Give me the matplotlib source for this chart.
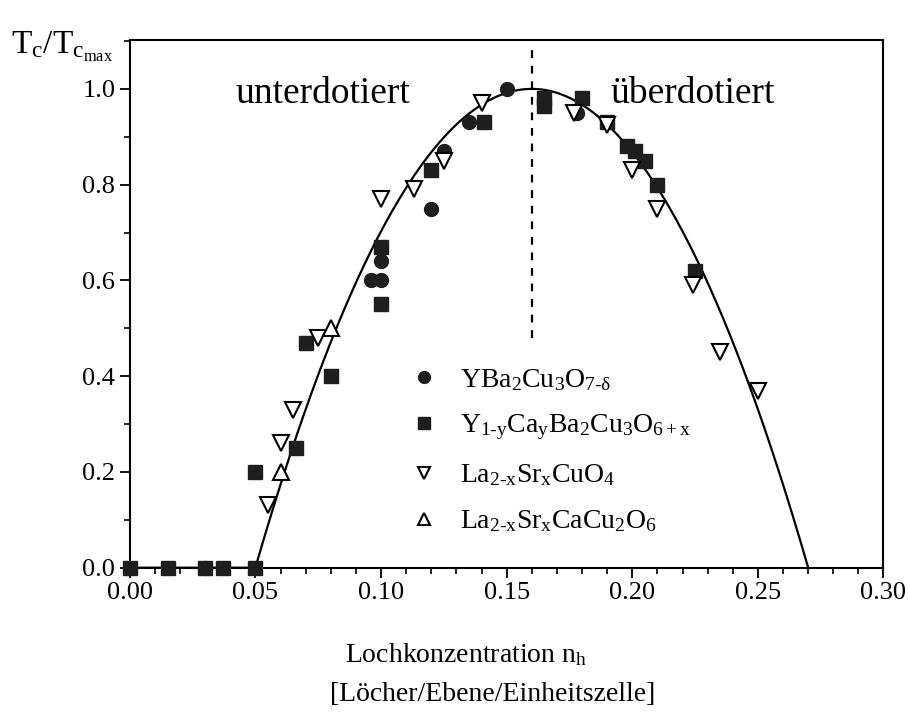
import numpy as np
import matplotlib
matplotlib.use("Agg")
import matplotlib.pyplot as plt
from matplotlib.ticker import MultipleLocator

plt.rcParams['font.family'] = ['Liberation Serif', 'DejaVu Serif']
plt.rcParams['mathtext.fontset'] = 'custom'
plt.rcParams['mathtext.rm'] = 'Liberation Serif'
plt.rcParams['mathtext.it'] = 'Liberation Serif'
plt.rcParams['font.size'] = 19

# YBa2Cu3O7-d
ybco_x = [0.096, 0.100, 0.100, 0.120, 0.125, 0.135, 0.150, 0.178, 0.030]
ybco_y = [0.60, 0.60, 0.64, 0.75, 0.87, 0.93, 1.00, 0.95, 0.0]

# Y1-yCayBa2Cu3O6+x
ca_x = [0.000, 0.015, 0.030, 0.037, 0.050, 0.050, 0.066, 0.070, 0.080,
        0.100, 0.100, 0.120, 0.141, 0.165, 0.165, 0.180, 0.190, 0.198,
        0.201, 0.205, 0.210, 0.225]
ca_y = [0.0, 0.0, 0.0, 0.0, 0.0, 0.20, 0.25, 0.47, 0.40,
        0.55, 0.67, 0.83, 0.93, 0.965, 0.98, 0.98, 0.93, 0.88,
        0.87, 0.85, 0.80, 0.62]

# La2-xSrxCuO4
lsco_x = [0.055, 0.060, 0.065, 0.075, 0.100, 0.113, 0.125, 0.140, 0.177,
          0.190, 0.200, 0.210, 0.224, 0.235, 0.250]
lsco_y = [0.13, 0.26, 0.33, 0.48, 0.77, 0.79, 0.85, 0.97, 0.95,
          0.925, 0.83, 0.75, 0.59, 0.45, 0.37]

# La2-xSrxCaCu2O6
lscc_x = [0.060, 0.080]
lscc_y = [0.20, 0.50]

# parabolic Tc(p) relation, zero below p = 0.05
p = np.linspace(0, 0.27, 400)
tc = np.clip(1 - 82.6 * (p - 0.16) ** 2, 0, None)
tc[p < 0.05] = 0

fig = plt.figure(figsize=(9.08, 7.15), dpi=100)
ax = fig.add_axes([0.143, 0.206, 0.830, 0.738])

ax.plot(p, tc, color='black', lw=1.6, zorder=2)
ax.plot([0.16, 0.16], [0.48, 1.09], color='black', lw=1.6,
        linestyle=(0, (3.5, 3.5)), zorder=1)

ax.plot(ybco_x, ybco_y, 'o', color='#1e1e1e', ms=10, ls='none',
        label=r'YBa$_2$Cu$_3$O$_{7\text{-}\delta}$', zorder=3, clip_on=False)
ax.plot(ca_x, ca_y, 's', color='#1e1e1e', ms=10, ls='none',
        label=r'Y$_{1\text{-}y}$Ca$_y$Ba$_2$Cu$_3$O$_{6+x}$', zorder=3,
        clip_on=False)
ax.plot(lsco_x, lsco_y, 'v', mfc='white', mec='black', mew=1.5, ms=11,
        ls='none', label=r'La$_{2\text{-}x}$Sr$_x$CuO$_4$', zorder=4)
ax.plot(lscc_x, lscc_y, '^', mfc='white', mec='black', mew=1.5, ms=11,
        ls='none', label=r'La$_{2\text{-}x}$Sr$_x$CaCu$_2$O$_6$', zorder=4)

ax.legend(loc='upper left', bbox_to_anchor=(0.339, 0.428), frameon=False,
          handletextpad=0.8, labelspacing=0.72, handlelength=1.0,
          markerscale=0.85, fontsize=20)

ax.text(0.077, 0.99, 'unterdotiert', ha='center', va='center', fontsize=27)
ax.text(0.224, 0.99, 'überdotiert', ha='center', va='center', fontsize=27)

ax.set_xlim(0, 0.30)
ax.set_ylim(0, 1.102)
ax.xaxis.set_major_locator(MultipleLocator(0.05))
ax.xaxis.set_minor_locator(MultipleLocator(0.01))
ax.yaxis.set_major_locator(MultipleLocator(0.2))
ax.yaxis.set_minor_locator(MultipleLocator(0.1))
ax.xaxis.set_major_formatter(plt.FormatStrFormatter('%.2f'))
ax.yaxis.set_major_formatter(plt.FormatStrFormatter('%.1f'))
ax.tick_params(which='major', direction='out', length=7, width=1.3,
               labelsize=19, top=False, right=False)
ax.tick_params(which='minor', direction='out', length=4, width=1.2,
               top=False, right=False)
for s in ax.spines.values():
    s.set_linewidth(1.5)

fig.text(0.513, 0.084, r'Lochkonzentration n$_h$', ha='center', va='center',
         fontsize=20)
fig.text(0.542, 0.028, '[Löcher/Ebene/Einheitszelle]', ha='center',
         va='center', fontsize=20)
fig.text(0.012, 0.935, r'T$_c$/T$_{c_{max}}$', ha='left', va='center',
         fontsize=24)

fig.savefig('out.png', dpi=100)
